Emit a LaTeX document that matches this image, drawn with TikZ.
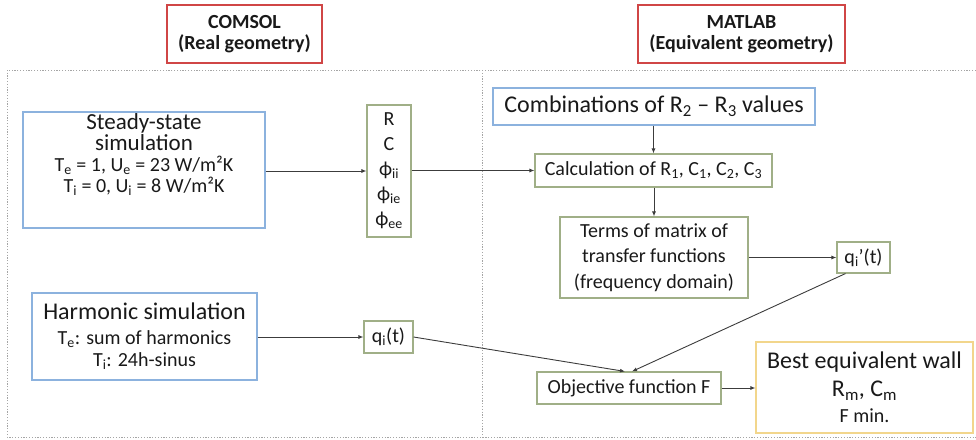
\documentclass[tikz,border=0pt]{standalone}
\usepackage{fontspec}
\setmainfont{Carlito}
\usetikzlibrary{arrows.meta}
\newcommand\sbs[1]{\textsubscript{#1}}
\newcommand\sml{\fontsize{20}{20}\selectfont}
\definecolor{redbox}{RGB}{208,70,70}
\definecolor{bluebox}{RGB}{140,178,222}
\definecolor{greenbox}{RGB}{160,175,135}
\definecolor{yellowbox}{RGB}{242,214,140}
\definecolor{linecol}{RGB}{60,60,60}
\definecolor{framecol}{RGB}{165,165,165}
\definecolor{txt}{RGB}{25,25,25}
\tikzset{
  box/.style={draw, line width=1.1pt, inner sep=0pt, align=center, text=txt},
  redb/.style={box, draw=redbox},
  blueb/.style={box, draw=bluebox},
  greenb/.style={box, draw=greenbox},
  yellowb/.style={box, draw=yellowbox},
  big/.style={font=\fontsize{24}{24}\selectfont},
  small/.style={font=\fontsize{20}{20}\selectfont},
  hdr/.style={font=\fontsize{20}{21}\selectfont\bfseries},
  lbl/.style={inner sep=0pt, align=center, text=txt},
  arr/.style={draw=linecol, line width=0.9pt, -{Latex[length=5pt,width=4pt]}},
  frame/.style={draw=framecol, line width=1pt, dash pattern=on 1.2pt off 1.6pt}
}
\begin{document}
\begin{tikzpicture}[x=1pt,y=-1pt]
\useasboundingbox (0,0) rectangle (976,439);
% dashed frame
\coordinate (ftl) at (7,70);
\coordinate (ftr) at (976,70);
\coordinate (fbl) at (7,437);
\coordinate (fbr) at (976,437);
\coordinate (dt) at (482,70);
\coordinate (db) at (482,437);
\draw[frame] (ftr) -- (ftl) -- (fbl) -- (fbr);
\draw[frame] (dt) -- (db);
% headers
\node[redb, hdr, minimum width=155pt, minimum height=58pt] (comsol) at (244.5,34) {COMSOL\\(Real geometry)};
\node[redb, hdr, minimum width=207pt, minimum height=58pt] (matlab) at (741.5,34) {MATLAB\\(Equivalent geometry)};
% left
\node[blueb, minimum width=242pt, minimum height=116pt] (steady) at (144,170) {};
\node[lbl, anchor=north, font=\fontsize{23}{21}\selectfont] (steadytxt) at ([yshift=-2pt]steady.north)
  {Steady-state\\simulation\\[-0.5pt]
   {\sml T\sbs{e} = 1, U\sbs{e} = 23 W/m²K}\\[0.5pt]
   {\sml T\sbs{i} = 0, U\sbs{i} = 8 W/m²K}};
\node[greenb, font=\fontsize{20}{25}\selectfont, minimum width=44pt, minimum height=132pt] (rc) at (389,171)
  {R\\C\\ϕ\sbs{ii}\\ϕ\sbs{ie}\\ϕ\sbs{ee}};
\node[blueb, font=\fontsize{24}{24}\selectfont, minimum width=225pt, minimum height=87pt] (harm) at (144.5,336.5)
  {Harmonic simulation\\[1pt]
   {\sml T\sbs{e}: sum of harmonics}\\[-2pt]
   {\sml T\sbs{i}: 24h-sinus}};
\node[greenb, small, minimum width=49pt, minimum height=32pt] (qi) at (388.5,337) {q\sbs{i}(t)};
% right
\node[blueb, big, minimum width=322pt, minimum height=37pt] (comb) at (654,106.5) {Combinations of R\sbs{2} – R\sbs{3} values};
\node[greenb, small, minimum width=237pt, minimum height=33pt] (calc) at (653.5,170.5) {Calculation of R\sbs{1}, C\sbs{1}, C\sbs{2}, C\sbs{3}};
\node[greenb, font=\fontsize{20}{25.5}\selectfont, minimum width=188pt, minimum height=81pt] (terms) at (654,257.5)
  {Terms of matrix of\\transfer functions\\(frequency domain)};
\node[greenb, small, minimum width=53pt, minimum height=31pt] (qip) at (863.5,257.5) {q\sbs{i}’(t)};
\node[greenb, small, minimum width=184pt, minimum height=32pt] (obj) at (629,388) {Objective function F};
\node[yellowb, font=\fontsize{24}{28}\selectfont, minimum width=217pt, minimum height=91pt] (best) at (864.5,387.5)
  {Best equivalent wall\\
   R\sbs{m}, C\sbs{m}\\[-2pt]
   {\sml F min.}};
% connectors
\draw[arr] (steady.east |- rc.west) -- (rc.west);
\draw[arr] (rc.east |- calc.west) -- (calc.west);
\draw[arr] (comb.south -| calc.north) -- (calc.north);
\draw[arr] (calc.south -| terms.north) -- (terms.north);
\draw[arr] (terms.east |- qip.west) -- (qip.west);
\draw[arr] (harm.east |- qi.west) -- (qi.west);
\draw[arr] (qi.east) -- ([xshift=-4pt]obj.north);
\draw[arr] ([xshift=-18pt]qip.south) -- ([xshift=3pt]obj.north);
\draw[arr] (obj.east) -- (best.west |- obj.east);
\end{tikzpicture}
\end{document}
